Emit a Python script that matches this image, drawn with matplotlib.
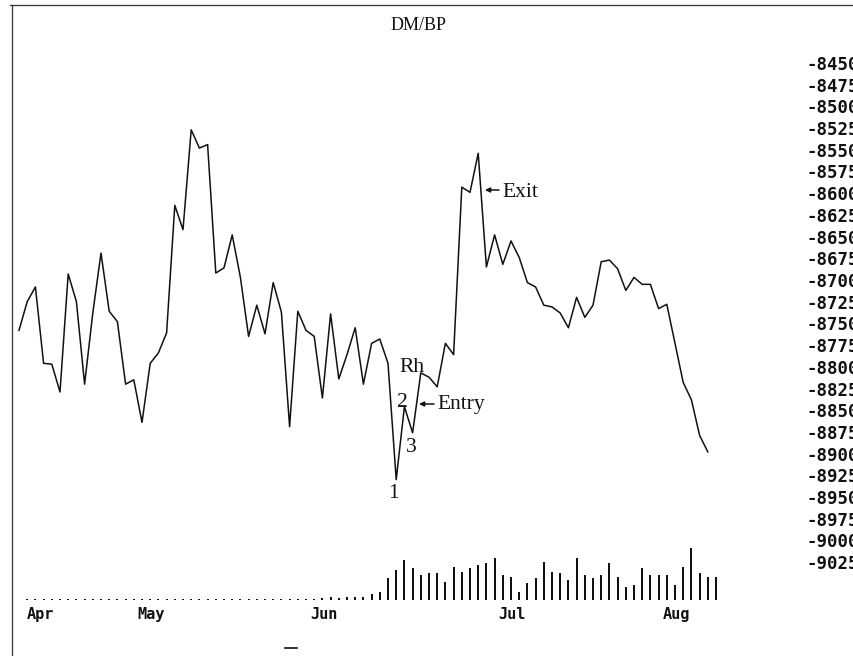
import matplotlib
matplotlib.use("Agg")
import matplotlib.pyplot as plt
from matplotlib.lines import Line2D

# ---------------- data ----------------
price = [-8758, -8725, -8708, -8796, -8797, -8829, -8693, -8725, -8820, -8738,
         -8669, -8736, -8748, -8820, -8815, -8864, -8796, -8784, -8761, -8614,
         -8642, -8527, -8548, -8544, -8692, -8686, -8648, -8697, -8765, -8729,
         -8762, -8703, -8737, -8869, -8736, -8758, -8765, -8836, -8739, -8814,
         -8786, -8755, -8820, -8773, -8768, -8796, -8930, -8846, -8876, -8807,
         -8812, -8823, -8773, -8786, -8593, -8599, -8554, -8685, -8648, -8682,
         -8655, -8674, -8703, -8708, -8729, -8731, -8738, -8755, -8720, -8743,
         -8729, -8679, -8677, -8687, -8712, -8697, -8705, -8705, -8733, -8728,
         -8773, -8818, -8838, -8879, -8898]

volume = ([0] + [1] * 36
          + [2, 3, 2, 3, 3, 3, 6, 8]
          + [22, 30, 40, 32, 25]
          + [27, 27, 18, 33, 28, 32, 35, 37, 42, 25, 23, 8, 17, 22, 38, 28, 27, 20,
             42, 25, 22, 25, 37, 23, 13, 15, 32, 25, 25, 25, 15, 33, 52, 27, 23, 23])

month_labels = ["Apr", "May", "Jun", "Jul", "Aug"]
month_pos = [1.0, 14.4, 35.5, 58.4, 78.5]

yticks = [-8450, -8475, -8500, -8525, -8550, -8575, -8600, -8625, -8650, -8675,
          -8700, -8725, -8750, -8775, -8800, -8825, -8850, -8875, -8900, -8925,
          -8950, -8975, -9000, -9025]

days = list(range(len(price)))
vdays = list(range(len(volume)))

# ---------------- layout helpers (pixels) ----------------
W, H = 854, 656
X0, DX = 19.0, 8.2          # pixel of day 0, pixels per day
Y0, DY = 63.0, 21.7         # pixel of -8450, pixels per 25 units


def xi(px):
    return (px - X0) / DX


def yv(py):
    return -8450 - (py - Y0) / DY * 25


def rect(x0, y0, x1, y1):
    return [x0 / W, 1 - y1 / H, (x1 - x0) / W, (y1 - y0) / H]


fig = plt.figure(figsize=(W / 100, H / 100), dpi=100)
fig.patch.set_facecolor("white")

ink = "#111111"
serif = "Liberation Serif"
mono = "DejaVu Sans Mono"

# price axes
ax = fig.add_axes(rect(12, 40, 800, 600))
ax.patch.set_alpha(0)
ax.set_xlim(xi(12), xi(800))
ax.set_ylim(yv(600), yv(40))
for s in ax.spines.values():
    s.set_visible(False)
ax.plot(days, price, color=ink, lw=1.1)
ax.set_xticks([])
ax.yaxis.tick_right()
ax.set_yticks(yticks)
ax.set_yticklabels([str(t) for t in yticks], family=mono, fontweight="bold",
                   fontsize=12.5, color=ink)
ax.tick_params(axis="y", length=0, pad=7 * 0.72)

# annotations
arrow = dict(arrowstyle="-|>", color=ink, lw=1.1, shrinkA=0, shrinkB=0,
             mutation_scale=7)
ax.annotate("", xy=(xi(485), yv(190)), xytext=(xi(499), yv(190)), arrowprops=arrow)
ax.text(xi(502), yv(197), "Exit", family=serif, fontsize=15.5, color=ink,
        ha="left", va="baseline")
ax.annotate("", xy=(xi(419), yv(404)), xytext=(xi(434), yv(404)), arrowprops=arrow)
ax.text(xi(437), yv(409), "Entry", family=serif, fontsize=15.5, color=ink,
        ha="left", va="baseline")
ax.text(xi(399), yv(372), "Rh", family=serif, fontsize=15.5, color=ink,
        ha="left", va="baseline")
ax.text(xi(402.5), yv(407), "2", family=serif, fontsize=15.5, color=ink,
        ha="center", va="baseline")
ax.text(xi(411), yv(452), "3", family=serif, fontsize=15.5, color=ink,
        ha="center", va="baseline")
ax.text(xi(393), yv(498), "1", family=serif, fontsize=15.5, color=ink,
        ha="center", va="baseline")

# volume axes
axv = fig.add_axes(rect(12, 540, 800, 600))
axv.patch.set_alpha(0)
axv.set_xlim(xi(12), xi(800))
axv.set_ylim(0, 60)
for s in axv.spines.values():
    s.set_visible(False)
axv.bar(vdays, volume, width=0.22, color=ink, linewidth=0)
axv.set_yticks([])
axv.set_xticks(month_pos)
axv.set_xticklabels(month_labels, family=mono, fontweight="bold", fontsize=11,
                    color=ink)
for lab in axv.get_xticklabels():
    lab.set_horizontalalignment("left")
axv.tick_params(axis="x", length=0, pad=7 * 0.72)

# title and frame
fig.text(419 / W, 1 - 30 / H, "DM/BP", family=serif, fontsize=13, color=ink,
         ha="center", va="baseline")
fig.add_artist(Line2D([12 / W, 12 / W], [0, 1 - 5 / H], transform=fig.transFigure,
                      color="#333333", lw=0.9))
fig.add_artist(Line2D([10 / W, 1], [1 - 5 / H, 1 - 5 / H], transform=fig.transFigure,
                      color="#333333", lw=0.9))
fig.add_artist(Line2D([285 / W, 297 / W], [1 - 648 / H, 1 - 648 / H],
                      transform=fig.transFigure, color=ink, lw=1.2))

fig.savefig("out.png", dpi=100)
